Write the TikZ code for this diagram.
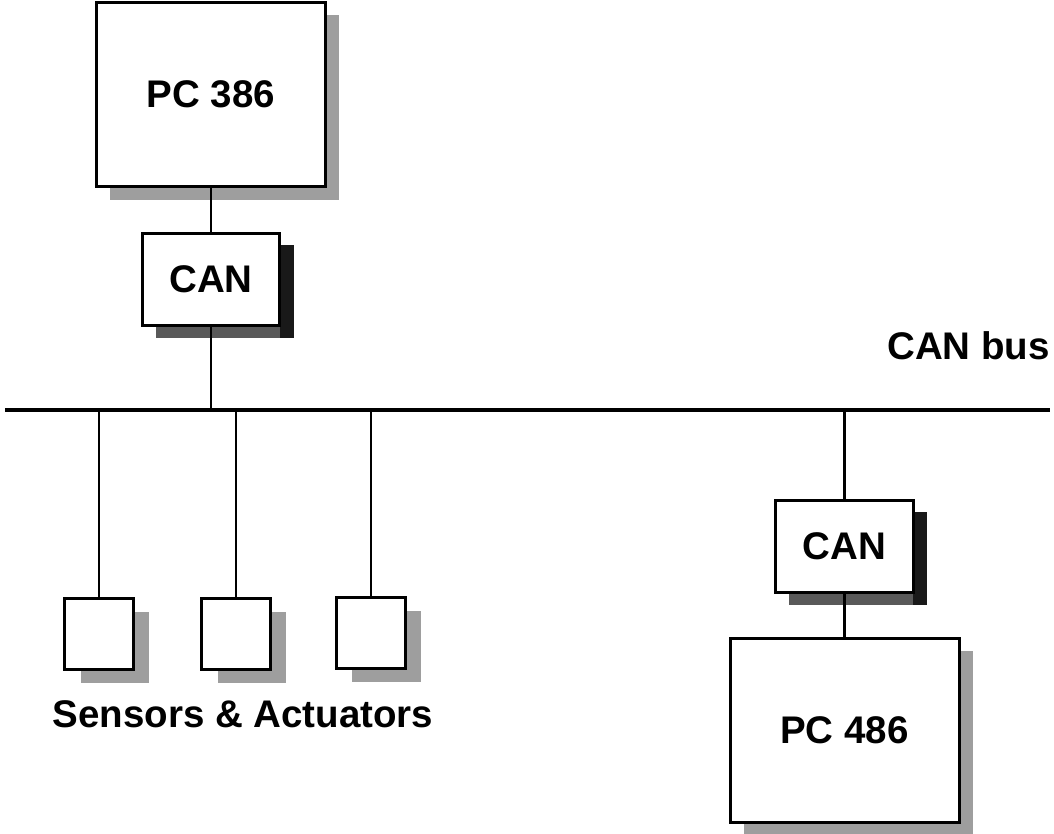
\documentclass[tikz,border=0pt]{standalone}
\usepackage{fontspec}
\setmainfont{Liberation Sans}
\begin{document}
\begin{tikzpicture}[x=1pt,y=-1pt,
  box/.style={draw=black,line width=3pt,fill=white,inner sep=0pt,
    font=\fontsize{38.5}{46}\selectfont\bfseries},
  conn/.style={draw=black,line width=2.8pt},
  bus/.style={draw=black,line width=4pt},
  lshadow/.style={fill=black!38},
  dshadow/.style={fill=black!65},
  bshadow/.style={fill=black!90},
  lbl/.style={font=\fontsize{38.5}{46}\selectfont\bfseries,inner sep=0pt}]
\useasboundingbox (0,0) rectangle (1054,833);
% shadows (drawn first)
\fill[lshadow] (110,15) rectangle (339,200);
\fill[lshadow] (744,651) rectangle (973,835);
\fill[lshadow] (81,612) rectangle (149,683);
\fill[lshadow] (218,612) rectangle (286,683);
\fill[lshadow] (352,611) rectangle (421,682);
\fill[dshadow] (156,325) rectangle (294,338);
\fill[bshadow] (280,245) rectangle (294,338);
\fill[dshadow] (789,592) rectangle (927,605);
\fill[bshadow] (913,512) rectangle (927,605);
% nodes
\node[box,minimum width=229pt,minimum height=184pt] (pc386) at (211,94) {PC 386};
\node[box,minimum width=137pt,minimum height=92pt] (can1) at (211,279) {CAN};
\node[box,minimum width=138pt,minimum height=92pt] (can2) at (844.5,546) {CAN};
\node[box,minimum width=229pt,minimum height=184pt] (pc486) at (844.5,730) {PC 486};
\node[box,minimum width=69pt,minimum height=71pt] (s1) at (99,633.5) {};
\node[box,minimum width=69pt,minimum height=71pt] (s2) at (236,633.5) {};
\node[box,minimum width=69pt,minimum height=71pt] (s3) at (371,632.5) {};
% bus
\coordinate (busL) at (5,410);
\coordinate (busR) at (1050,410);
\draw[bus] (busL) -- (busR);
\coordinate (j1) at (211,410);
\coordinate (j2) at (99,410);
\coordinate (j3) at (236,410);
\coordinate (j4) at (371,410);
\coordinate (j5) at (844.5,410);
% connectors
\draw[conn] (pc386.south) -- (can1.north);
\draw[conn] (can1.south) -- (j1);
\draw[conn] (j2) -- (s1.north);
\draw[conn] (j3) -- (s2.north);
\draw[conn] (j4) -- (s3.north);
\draw[conn] (j5) -- (can2.north);
\draw[conn] (can2.south) -- (pc486.north);
% labels
\node[lbl,anchor=base east] (busl) at (1050,359) {CAN bus};
\node[lbl,anchor=base] (sa) at (243,727) {Sensors \& Actuators};
\end{tikzpicture}
\end{document}
